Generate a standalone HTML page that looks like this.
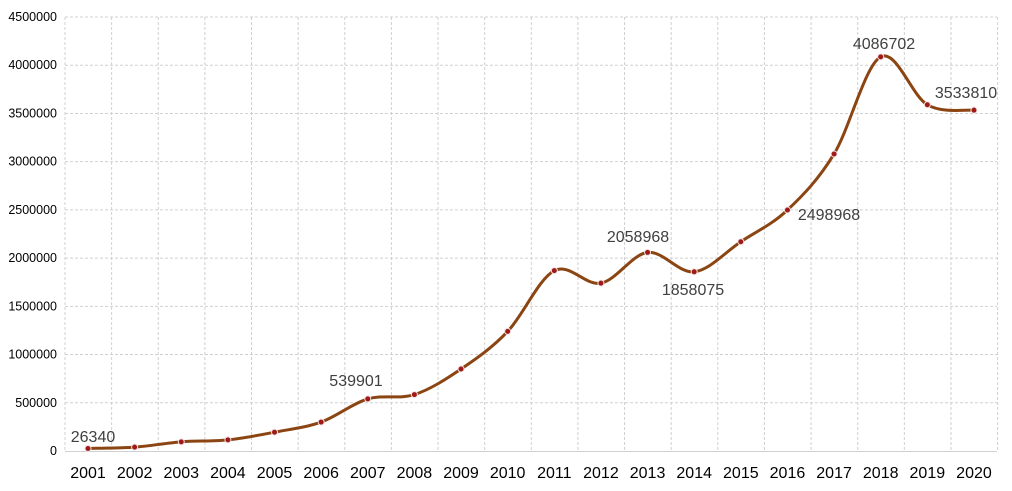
<!DOCTYPE html>
<html><head><meta charset="utf-8"><style>
html,body{margin:0;padding:0;background:#fff;}
svg{display:block;font-family:"Liberation Sans",sans-serif;}
</style></head><body>
<svg id="s" width="1012" height="491" viewBox="0 0 1012 491" xmlns="http://www.w3.org/2000/svg">
<g id="grid" stroke="#d0d0d0" stroke-width="1" stroke-dasharray="3,2" fill="none"></g>
<line x1="65" y1="451.5" x2="997" y2="451.5" stroke="#d0d0d0"/>
<g id="yl" font-size="12.5" fill="#000" text-anchor="end"></g>
<g id="xl" font-size="16" fill="#000" text-anchor="middle"></g>
<path id="ln" fill="none" stroke="#8b4513" stroke-width="3" stroke-linejoin="round"/>
<g id="mk"></g>
<g font-size="16" fill="#404040" text-anchor="middle">
<text x="93" y="442">26340</text>
<text x="356" y="386">539901</text>
<text x="638" y="242">2058968</text>
<text x="693" y="295">1858075</text>
<text x="829" y="220">2498968</text>
<text x="884" y="49">4086702</text>
<text x="966" y="98">3533810</text>
</g>
</svg>
<script>
var ns="http://www.w3.org/2000/svg";
function el(t,a,p){var e=document.createElementNS(ns,t);for(var k in a)e.setAttribute(k,a[k]);document.getElementById(p).appendChild(e);return e;}
var yT=17,yB=451,step=46.63,x0=88;
for(var i=0;i<=9;i++){var y=yB-i*(yB-yT)/9;if(i>0)el('line',{x1:65,y1:y,x2:997,y2:y},'grid');
var t=el('text',{x:57,y:y+4},'yl');t.textContent=String(i*500000);}
for(var i=0;i<=20;i++){var x=65+i*step;el('line',{x1:x,y1:yT,x2:x,y2:yB},'grid');}
for(var i=0;i<20;i++){var t=el('text',{x:x0+i*step,y:478},'xl');t.textContent=String(2001+i);}
var v=[26340,40000,95000,115000,195000,300000,539901,585000,850000,1240000,1870000,1740000,2058968,1858075,2170000,2498968,3080000,4086702,3590000,3533810];
var P=v.map(function(d,i){return[x0+i*step,yB-d/4500000*(yB-yT)];});
var d='M'+P[0][0]+','+P[0][1];
for(var i=0;i<P.length-1;i++){var p0=P[Math.max(i-1,0)],p1=P[i],p2=P[i+1],p3=P[Math.min(i+2,P.length-1)];
var c1=[p1[0]+(p2[0]-p0[0])/6,p1[1]+(p2[1]-p0[1])/6],c2=[p2[0]-(p3[0]-p1[0])/6,p2[1]-(p3[1]-p1[1])/6];
d+=' C'+c1+' '+c2+' '+p2;}
document.getElementById('ln').setAttribute('d',d);
P.forEach(function(p){el('circle',{cx:p[0],cy:p[1],r:3,fill:'#a01818',stroke:'#f0e0e0','stroke-width':1},'mk');});
</script>
</body></html>
